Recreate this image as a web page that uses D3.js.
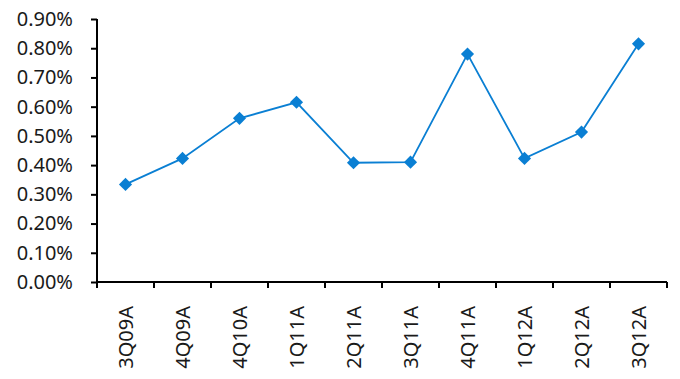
<!DOCTYPE html>
<html>
<head>
<meta charset="utf-8">
<script src="https://cdn.jsdelivr.net/npm/d3@7"></script>
<style>
  html, body { margin: 0; padding: 0; background: #fff; }
  svg { display: block; }
  .axis text { font-family: "Noto Sans", "Open Sans", sans-serif; font-size: 20px; fill: #1a1a1a; }
</style>
</head>
<body>
<svg id="chart" width="680" height="379"></svg>
<script>
// Quarterly ratio (%)
const quarters = ["3Q09A", "4Q09A", "4Q10A", "1Q11A", "2Q11A", "3Q11A", "4Q11A", "1Q12A", "2Q12A", "3Q12A"];
const values = [0.334, 0.423, 0.560, 0.615, 0.408, 0.410, 0.780, 0.423, 0.513, 0.815];
const yTicks = [0, 0.1, 0.2, 0.3, 0.4, 0.5, 0.6, 0.7, 0.8, 0.9];

const svg = d3.select("#chart");
const margin = { left: 97, right: 13, top: 19, bottom: 97 };
const W = 680, H = 379;

const x = d3.scaleBand().domain(quarters).range([margin.left, W - margin.right]);
const y = d3.scaleLinear().domain([0, 0.9]).range([H - margin.bottom, margin.top]);

// y axis
const yAxis = svg.append("g")
  .attr("class", "axis")
  .attr("transform", `translate(${margin.left},0)`)
  .call(d3.axisLeft(y).tickValues(yTicks).tickSize(6).tickPadding(18)
    .tickFormat(d => d.toFixed(2) + "%"));
yAxis.select(".domain").attr("stroke", "#000").attr("stroke-width", 2).attr("d", `M0,${y(0.9)}V${y(0)}`);
yAxis.selectAll(".tick line").attr("stroke", "#000").attr("stroke-width", 2);

// x axis, ticks on category boundaries
const xAxis = svg.append("g")
  .attr("class", "axis")
  .attr("transform", `translate(0,${y(0)})`)
  .call(d3.axisBottom(x).tickSize(0).tickPadding(0));
xAxis.select(".domain").attr("stroke", "#000").attr("stroke-width", 2)
  .attr("d", `M${margin.left},0H${W - margin.right}`);
xAxis.selectAll(".tick text")
  .attr("transform", "rotate(-90)")
  .attr("text-anchor", "end")
  .attr("dy", "0.35em")
  .attr("x", -24)
  .attr("y", 0);
const bounds = quarters.map(q => x(q)).concat([x(quarters[quarters.length - 1]) + x.bandwidth()]);
xAxis.selectAll(".bound").data(bounds).enter().append("line")
  .attr("x1", d => d).attr("x2", d => d)
  .attr("y1", 0).attr("y2", 6)
  .attr("stroke", "#000").attr("stroke-width", 2);

// series line
const color = "#0a7fd3";
const cx = q => x(q) + x.bandwidth() / 2;
svg.append("path")
  .datum(values)
  .attr("fill", "none")
  .attr("stroke", color)
  .attr("stroke-width", 1.8)
  .attr("d", d3.line().x((d, i) => cx(quarters[i])).y(d => y(d)));

// diamond markers
svg.selectAll(".marker").data(values).enter().append("path")
  .attr("class", "marker")
  .attr("transform", (d, i) => `translate(${cx(quarters[i])},${y(d)})`)
  .attr("d", d3.symbol().type(d3.symbolDiamond2).size(110))
  .attr("fill", color);
</script>
</body>
</html>
